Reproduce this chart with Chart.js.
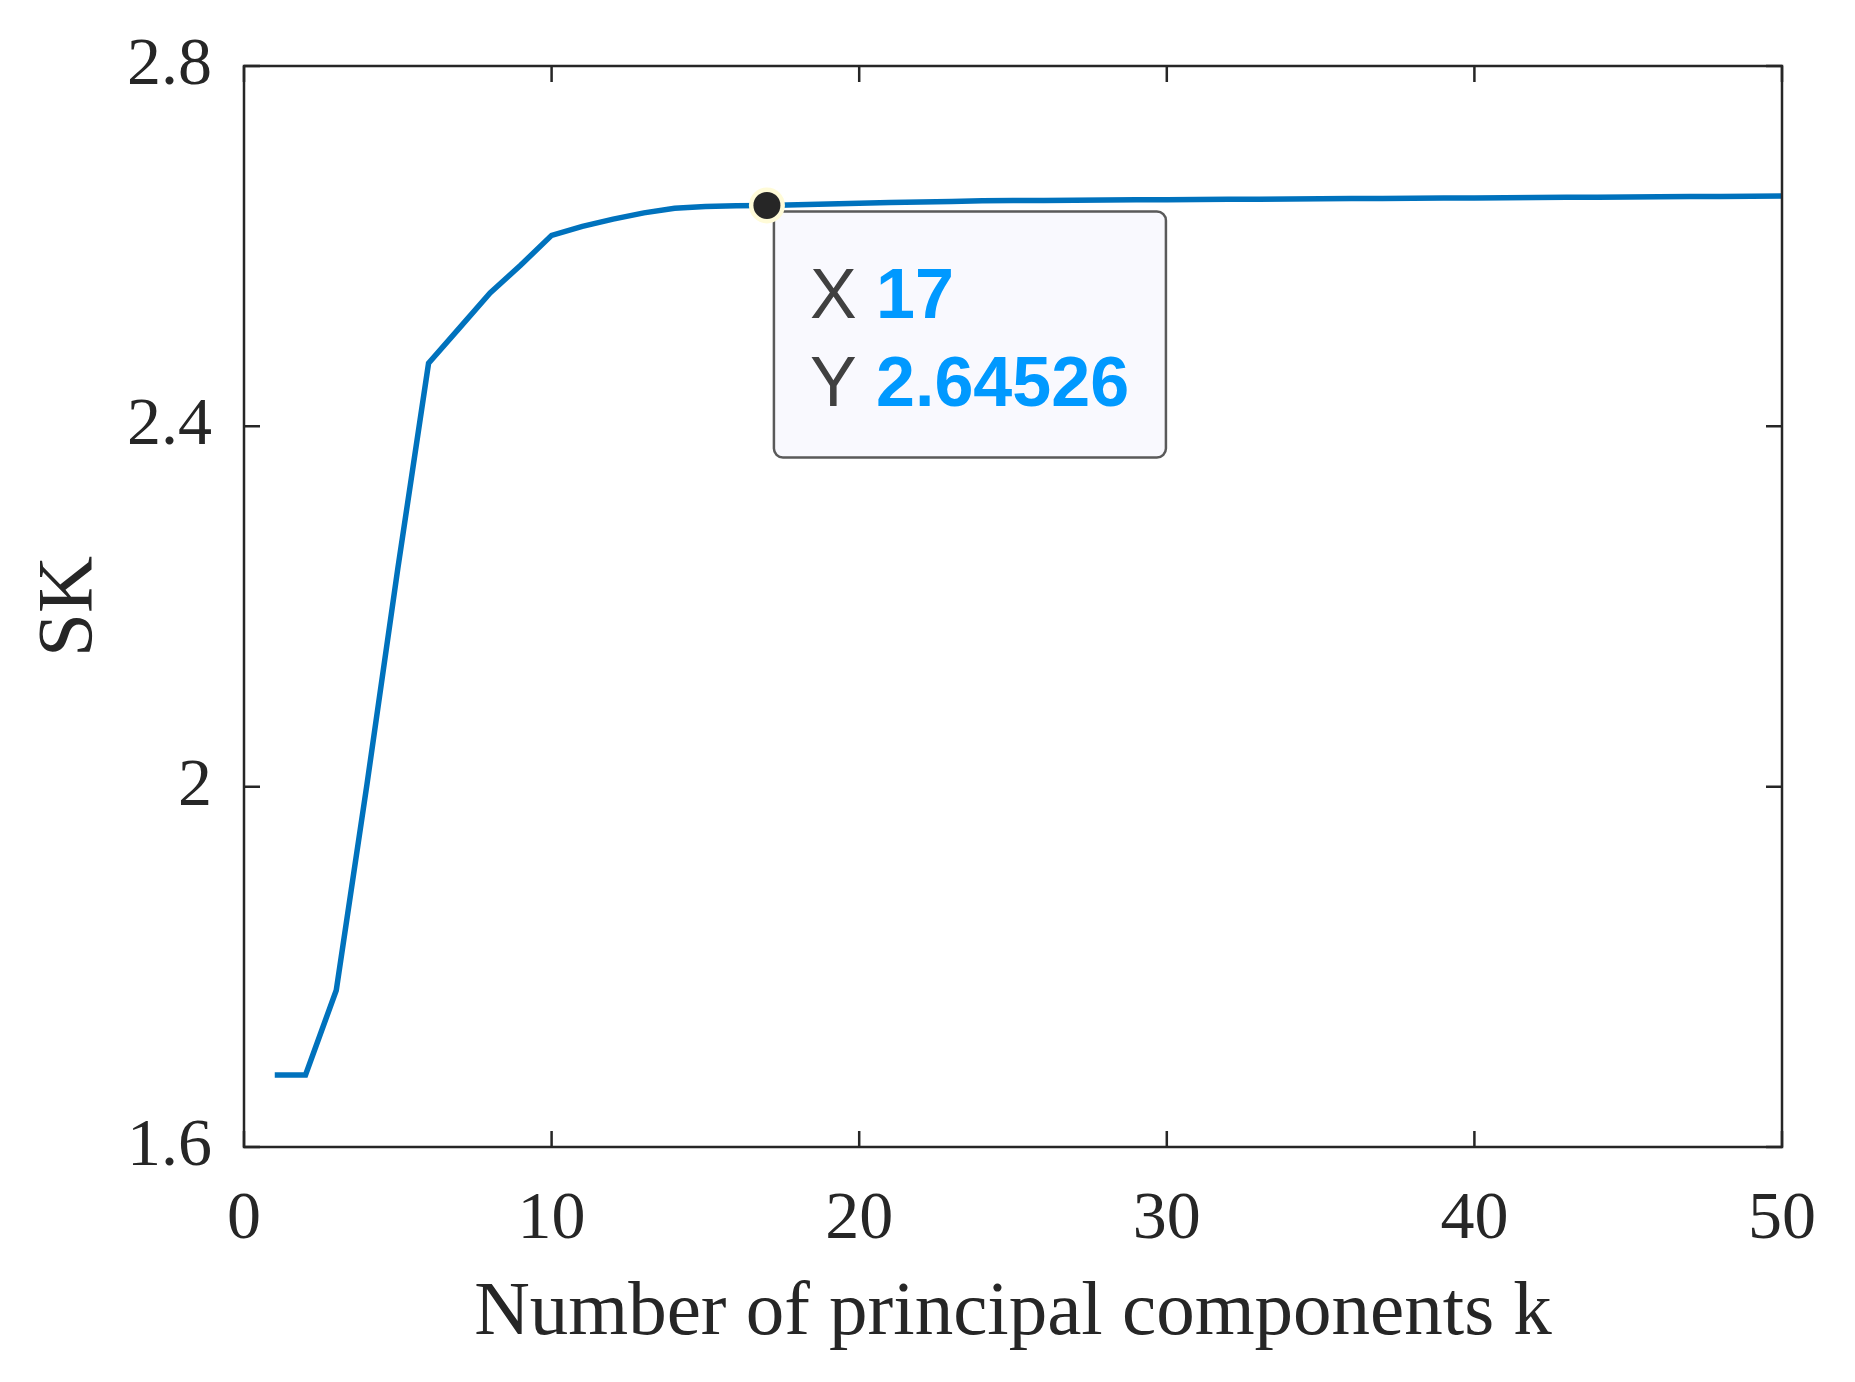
<!DOCTYPE html>
<html>
<head>
<meta charset="utf-8">
<script src="https://cdn.jsdelivr.net/npm/chart.js@4"></script>
<style>
  html, body { margin: 0; padding: 0; background: #ffffff; }
  #wrap { width: 1855px; height: 1382px; }
</style>
</head>
<body>
<div id="wrap"><canvas id="c" width="1855" height="1382"></canvas></div>
<script>
// ---- data ----
const kValues = [1,2,3,4,5,6,7,8,9,10,11,12,13,14,15,16,17,18,19,20,21,22,23,24,25,26,27,28,29,30,31,32,33,34,35,36,37,38,39,40,41,42,43,44,45,46,47,48,49,50];
const skValues = [1.680,1.680,1.774,2.003,2.242,2.470,2.509,2.548,2.579,2.612,
                  2.622,2.630,2.637,2.642,2.6440,2.6448,2.64526,2.6460,2.6468,2.6476,
                  2.6484,2.6491,2.6497,2.6503,2.6506,2.6508,2.6510,2.6512,2.6514,2.6516,
                  2.6518,2.6520,2.6522,2.6524,2.6526,2.6528,2.6530,2.6532,2.6534,2.6536,
                  2.6538,2.6540,2.6542,2.6544,2.6546,2.6548,2.6550,2.6552,2.6554,2.6556];
const xTickValues = [0,10,20,30,40,50];
const xTickLabels = ["0","10","20","30","40","50"];
const yTickValues = [1.6,2.0,2.4,2.8];
const yTickLabels = ["1.6","2","2.4","2.8"];
const xTitle = "Number of principal components k";
const yTitle = "SK";
const tipX = 17;
const tipY = 2.64526;
const tipXLabel = "17";
const tipYLabel = "2.64526";

const points = kValues.map((k, i) => ({ x: k, y: skValues[i] }));

const AXIS_COLOR = '#262626';
const SERIF = "'Liberation Serif', 'Times New Roman', serif";

const framePlugin = {
  id: 'frame',
  afterDatasetsDraw(chart) {
    const { ctx, chartArea: a, scales } = chart;
    ctx.save();
    ctx.strokeStyle = AXIS_COLOR;
    ctx.lineWidth = 2.5;
    ctx.lineCap = 'butt';
    const tl = 16;
    ctx.beginPath();
    xTickValues.forEach(v => {
      const px = scales.x.getPixelForValue(v);
      ctx.moveTo(px, a.bottom); ctx.lineTo(px, a.bottom - tl);
      ctx.moveTo(px, a.top); ctx.lineTo(px, a.top + tl);
    });
    yTickValues.forEach(v => {
      const py = scales.y.getPixelForValue(v);
      ctx.moveTo(a.left, py); ctx.lineTo(a.left + tl, py);
      ctx.moveTo(a.right, py); ctx.lineTo(a.right - tl, py);
    });
    ctx.stroke();
    ctx.strokeRect(a.left, a.top, a.right - a.left, a.bottom - a.top);
    ctx.restore();
  }
};

function roundRect(ctx, x, y, w, h, r) {
  ctx.beginPath();
  ctx.moveTo(x + r, y);
  ctx.lineTo(x + w - r, y);
  ctx.arcTo(x + w, y, x + w, y + r, r);
  ctx.lineTo(x + w, y + h - r);
  ctx.arcTo(x + w, y + h, x + w - r, y + h, r);
  ctx.lineTo(x + r, y + h);
  ctx.arcTo(x, y + h, x, y + h - r, r);
  ctx.lineTo(x, y + r);
  ctx.arcTo(x, y, x + r, y, r);
  ctx.closePath();
}

const tipPlugin = {
  id: 'datatip',
  afterDraw(chart) {
    const { ctx, scales } = chart;
    const px = scales.x.getPixelForValue(tipX);
    const py = scales.y.getPixelForValue(tipY);
    ctx.save();
    // box
    const bx = px + 7, by = py + 6, bw = 392, bh = 246;
    roundRect(ctx, bx, by, bw, bh, 9);
    ctx.fillStyle = '#f9f9fe';
    ctx.fill();
    ctx.lineWidth = 2.5;
    ctx.strokeStyle = '#5a5a5a';
    ctx.stroke();
    // marker
    ctx.beginPath();
    ctx.arc(px, py, 18, 0, Math.PI * 2);
    ctx.fillStyle = '#fffbd8';
    ctx.fill();
    ctx.beginPath();
    ctx.arc(px, py, 13.5, 0, Math.PI * 2);
    ctx.fillStyle = '#262626';
    ctx.fill();
    // text
    ctx.textBaseline = 'alphabetic';
    ctx.textAlign = 'left';
    const sans = "'Liberation Sans', Arial, sans-serif";
    const tx = bx + 36;
    const rows = [["X ", tipXLabel, by + 107], ["Y ", tipYLabel, by + 195]];
    rows.forEach(([lab, val, y]) => {
      ctx.font = "70px " + sans;
      ctx.fillStyle = '#404040';
      ctx.fillText(lab, tx, y);
      const w = ctx.measureText(lab).width;
      ctx.font = "bold 70px " + sans;
      ctx.fillStyle = '#0099ff';
      ctx.fillText(val, tx + w, y);
    });
    ctx.restore();
  }
};

new Chart(document.getElementById('c'), {
  type: 'line',
  data: {
    datasets: [{
      data: points,
      borderColor: '#0072BD',
      borderWidth: 5.5,
      pointRadius: 0,
      tension: 0,
      fill: false
    }]
  },
  options: {
    responsive: false,
    animation: false,
    devicePixelRatio: 1,
    layout: { padding: { top: 66, right: 61, left: 0, bottom: 0 } },
    plugins: { legend: { display: false }, tooltip: { enabled: false } },
    scales: {
      x: {
        type: 'linear',
        min: 0, max: 50,
        afterFit: s => { s.height = 235; },
        afterBuildTicks: s => { s.ticks = xTickValues.map(v => ({ value: v })); },
        grid: { display: false, drawTicks: false },
        border: { display: false },
        ticks: {
          padding: 39,
          maxRotation: 0,
          autoSkip: false,
          color: AXIS_COLOR,
          font: { family: SERIF, size: 68, lineHeight: 1 },
          callback: (v, i) => xTickLabels[i]
        },
        title: {
          display: true,
          text: xTitle,
          color: AXIS_COLOR,
          font: { family: SERIF, size: 77, lineHeight: 1 },
          padding: { top: 0, bottom: 30 }
        }
      },
      y: {
        type: 'linear',
        min: 1.6, max: 2.8,
        afterFit: s => { s.width = 244; },
        afterBuildTicks: s => { s.ticks = yTickValues.map(v => ({ value: v })); },
        grid: { display: false, drawTicks: false },
        border: { display: false },
        ticks: {
          padding: 32,
          autoSkip: false,
          color: AXIS_COLOR,
          font: { family: SERIF, size: 68, lineHeight: 1 },
          callback: (v, i) => yTickLabels[i]
        },
        title: {
          display: true,
          text: yTitle,
          color: AXIS_COLOR,
          font: { family: SERIF, size: 79, lineHeight: 1 },
          padding: { top: 31, bottom: 0 }
        }
      }
    }
  },
  plugins: [framePlugin, tipPlugin]
});
</script>
</body>
</html>
